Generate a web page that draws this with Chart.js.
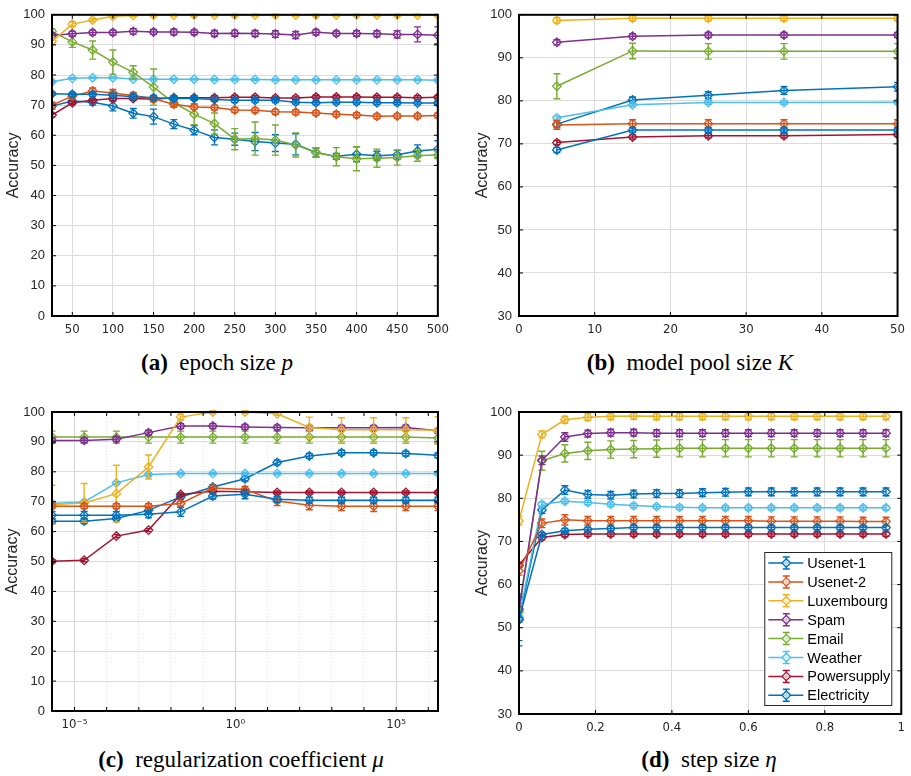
<!DOCTYPE html>
<html>
<head>
<meta charset="utf-8">
<script src="https://cdn.jsdelivr.net/npm/chart.js"></script>
<style>
  body { margin: 0; background: #fff; width: 911px; height: 776px; position: relative; overflow: hidden; }
  canvas { position: absolute; }
  .cap { position: absolute; font-family: "Liberation Serif", "Times New Roman", serif; font-size: 23px; line-height: 1;
         color: #000; white-space: nowrap; transform: translate(-50%, -50%); }
</style>
</head>
<body>
<canvas id="chartA" width="455" height="340" style="left:0;top:0"></canvas>
<canvas id="chartB" width="456" height="340" style="left:455px;top:0"></canvas>
<canvas id="chartC" width="455" height="340" style="left:0;top:395px"></canvas>
<canvas id="chartD" width="456" height="340" style="left:455px;top:395px"></canvas>
<div class="cap" style="left:217px;top:362px"><b>(a)</b>&nbsp; epoch size <i>p</i></div>
<div class="cap" style="left:690px;top:362px"><b>(b)</b>&nbsp; model pool size <i>K</i></div>
<div class="cap" style="left:241px;top:759px"><b>(c)</b>&nbsp; regularization coefficient <i>μ</i></div>
<div class="cap" style="left:709px;top:759px"><b>(d)</b>&nbsp; step size <i>η</i></div>
<script>
const seriesNames = ['Usenet-1', 'Usenet-2', 'Luxembourg', 'Spam', 'Email', 'Weather', 'Powersupply', 'Electricity'];
const seriesColors = ['#0072BD', '#D95319', '#EDB120', '#7E2F8E', '#77AC30', '#4DBEEE', '#A2142F', '#0072BD'];

// (a) epoch size p
const aX = [25, 50, 75, 100, 125, 150, 175, 200, 225, 250, 275, 300, 325, 350, 375, 400, 425, 450, 475, 500];
const aXTicks = [50, 100, 150, 200, 250, 300, 350, 400, 450, 500];
const aYTicks = [0, 10, 20, 30, 40, 50, 60, 70, 80, 90, 100];
const aUsenet1 = [73.8, 73.6, 73.6, 73.3, 72.8, 72.5, 72.2, 72.2, 71.9, 71.6, 71.6, 71.6, 71.0, 70.8, 71.0, 71.0, 70.8, 70.8, 70.7, 70.7];
const aUsenet2 = [70.0, 73.0, 74.7, 74.0, 73.2, 72.1, 70.3, 69.4, 69.2, 68.4, 68.3, 67.8, 67.7, 67.4, 67.0, 66.7, 66.3, 66.4, 66.4, 66.6];
const aLux = [91.2, 96.9, 98.3, 99.5, 99.8, 99.9, 99.9, 99.9, 99.9, 99.9, 99.9, 99.9, 99.9, 99.9, 99.9, 99.9, 99.9, 99.9, 99.9, 99.9];
const aSpam = [93.1, 93.7, 94.1, 94.1, 94.5, 94.3, 94.3, 94.2, 93.8, 93.9, 93.8, 93.6, 93.3, 94.2, 93.8, 93.8, 93.7, 93.5, 93.5, 93.2];
const aEmail = [94.5, 91.0, 88.3, 84.3, 80.9, 76.0, 70.8, 67.0, 63.9, 58.7, 58.9, 58.4, 56.8, 54.3, 52.9, 52.2, 52.4, 52.6, 53.2, 53.5];
const aWeather = [77.8, 78.9, 79.1, 79.1, 78.7, 78.6, 78.6, 78.6, 78.5, 78.5, 78.5, 78.4, 78.4, 78.4, 78.4, 78.4, 78.4, 78.4, 78.4, 78.3];
const aPower = [66.7, 70.8, 71.6, 72.2, 72.2, 72.0, 72.5, 72.5, 72.5, 72.6, 72.6, 72.4, 72.4, 72.7, 72.7, 72.7, 72.6, 72.6, 72.5, 72.6];
const aElec = [69.7, 71.4, 71.0, 69.7, 67.3, 66.2, 63.7, 61.7, 59.3, 58.7, 57.9, 57.4, 57.0, 54.3, 53.0, 53.7, 53.2, 53.5, 54.8, 55.4];
const aUsenet1Err = [0.5, 0.6, 0.6, 0.6, 0.8, 0.7, 0.6, 0.6, 0.6, 0.7, 0.7, 0.7, 0.6, 0.6, 0.6, 0.6, 0.6, 0.6, 0.6, 0.6];
const aUsenet2Err = [1.0, 1.0, 1.0, 1.2, 1.0, 1.0, 0.8, 0.8, 0.8, 0.8, 0.8, 0.8, 0.8, 0.8, 0.8, 0.8, 0.8, 0.8, 0.8, 0.8];
const aLuxErr = [1.0, 0.8, 0.5, 0.3, 0.3, 0.3, 0.3, 0.3, 0.3, 0.3, 0.3, 0.3, 0.3, 0.3, 0.3, 0.3, 0.3, 0.3, 0.3, 0.3];
const aSpamErr = [0.8, 0.8, 0.8, 0.8, 0.9, 0.8, 0.9, 0.8, 1.0, 1.0, 1.0, 1.1, 1.2, 0.9, 0.8, 0.9, 1.0, 1.2, 2.5, 2.8];
const aEmailErr = [0.8, 1.8, 3.0, 4.0, 2.2, 6.0, 1.5, 3.5, 3.5, 3.5, 5.5, 5.0, 4.0, 1.5, 3.0, 4.0, 3.0, 2.5, 1.8, 1.2];
const aWeatherErr = [0.3, 0.3, 0.3, 0.3, 0.3, 0.3, 0.3, 0.3, 0.3, 0.3, 0.3, 0.3, 0.3, 0.3, 0.3, 0.3, 0.3, 0.3, 0.3, 0.3];
const aPowerErr = [0.6, 0.6, 0.6, 0.6, 0.6, 0.6, 0.6, 0.6, 0.6, 0.6, 0.6, 0.6, 0.6, 0.6, 0.6, 0.6, 0.6, 0.6, 0.6, 0.6];
const aElecErr = [1.0, 1.0, 1.0, 1.6, 1.6, 2.5, 1.5, 1.5, 2.5, 2.0, 3.0, 2.8, 3.5, 1.5, 1.0, 2.5, 1.5, 1.5, 2.0, 2.8];

// (b) model pool size K
const bX = [5, 15, 25, 35, 50];
const bXTicks = [0, 10, 20, 30, 40, 50];
const bYTicks = [30, 40, 50, 60, 70, 80, 90, 100];
const bUsenet1 = [68.6, 73.2, 73.2, 73.2, 73.2];
const bUsenet2 = [74.4, 74.7, 74.7, 74.7, 74.7];
const bLux = [98.7, 99.2, 99.2, 99.2, 99.2];
const bSpam = [93.6, 95.0, 95.3, 95.3, 95.3];
const bEmail = [83.4, 91.6, 91.5, 91.5, 91.5];
const bWeather = [76.1, 79.1, 79.6, 79.6, 79.7];
const bPower = [70.3, 71.6, 71.9, 71.9, 72.2];
const bElec = [74.6, 80.2, 81.3, 82.4, 83.3];
const bUsenet1Err = [0.6, 0.5, 0.5, 0.5, 0.5];
const bUsenet2Err = [1.0, 0.9, 0.9, 0.9, 0.9];
const bLuxErr = [0.6, 0.6, 0.6, 0.6, 0.6];
const bSpamErr = [0.6, 0.6, 0.6, 0.6, 0.6];
const bEmailErr = [2.9, 1.8, 1.8, 1.8, 1.8];
const bWeatherErr = [0.4, 0.4, 0.4, 0.4, 0.4];
const bPowerErr = [0.5, 0.5, 0.5, 0.5, 0.5];
const bElecErr = [0.8, 0.7, 0.8, 0.9, 1.0];

// (c) regularization coefficient mu (log scale)
const cX = [2e-6, 2e-5, 2e-4, 2e-3, 2e-2, 2e-1, 2, 20, 200, 2e3, 2e4, 2e5, 2e6];
const cXTicks = [1e-5, 1e-4, 1e-3, 1e-2, 1e-1, 1, 10, 100, 1e3, 1e4, 1e5, 1e6];
const cXTickLabels = ['10⁻⁵', '', '', '', '', '10⁰', '', '', '', '', '10⁵', ''];
const cYTicks = [0, 10, 20, 30, 40, 50, 60, 70, 80, 90, 100];
const cUsenet1 = [65.5, 65.5, 65.5, 65.8, 66.6, 71.9, 72.5, 70.8, 70.5, 70.5, 70.5, 70.5, 70.5];
const cUsenet2 = [68.5, 68.5, 68.5, 68.5, 69.4, 74.6, 74.1, 70.2, 68.8, 68.5, 68.5, 68.5, 68.5];
const cLux = [69.0, 69.6, 72.7, 81.6, 98.3, 100, 100, 99.4, 94.8, 94.1, 94.1, 94.1, 93.9];
const cSpam = [90.5, 90.5, 90.9, 93.1, 95.3, 95.3, 95.0, 94.8, 94.7, 94.7, 94.7, 94.8, 93.7];
const cEmail = [91.6, 91.6, 91.6, 91.6, 91.6, 91.6, 91.6, 91.6, 91.6, 91.6, 91.6, 91.6, 91.3];
const cWeather = [69.4, 69.9, 76.3, 79.1, 79.4, 79.4, 79.4, 79.4, 79.4, 79.4, 79.4, 79.4, 79.4];
const cPower = [50.1, 50.4, 58.5, 60.5, 72.4, 73.5, 73.3, 73.1, 73.1, 73.1, 73.1, 73.1, 73.1];
const cElec = [63.5, 63.5, 64.4, 67.1, 71.6, 74.9, 77.7, 83.1, 85.3, 86.4, 86.4, 86.1, 85.5];
const cUsenet1Err = [1.2, 1.2, 1.2, 1.2, 1.5, 1.0, 1.5, 1.0, 1.0, 1.0, 1.0, 1.0, 1.0];
const cUsenet2Err = [0.8, 0.8, 0.8, 0.8, 0.8, 0.8, 1.0, 1.5, 1.5, 1.5, 1.8, 1.5, 1.5];
const cLuxErr = [6.5, 6.5, 9.5, 4.0, 1.0, 0.5, 0.5, 0.5, 3.5, 4.0, 4.0, 4.0, 4.5];
const cSpamErr = [0.8, 0.8, 0.8, 0.8, 0.8, 0.8, 0.8, 0.8, 0.8, 0.8, 0.8, 0.8, 0.8];
const cEmailErr = [2.0, 2.0, 2.0, 2.0, 2.0, 2.0, 2.0, 2.0, 2.0, 2.0, 2.0, 2.0, 2.0];
const cWeatherErr = [0.4, 0.4, 0.4, 0.4, 0.4, 0.4, 0.4, 0.4, 0.4, 0.4, 0.4, 0.4, 0.4];
const cPowerErr = [0.5, 0.5, 0.5, 0.5, 0.5, 0.5, 0.5, 0.5, 0.5, 0.5, 0.5, 0.5, 0.5];
const cElecErr = [0.8, 0.8, 0.8, 0.8, 0.8, 0.8, 0.8, 0.8, 0.8, 0.8, 0.8, 0.8, 0.8];

// (d) step size eta
const dX = [0, 0.06, 0.12, 0.18, 0.24, 0.30, 0.36, 0.42, 0.48, 0.54, 0.60, 0.66, 0.72, 0.78, 0.84, 0.90, 0.96];
const dXTicks = [0, 0.2, 0.4, 0.6, 0.8, 1];
const dYTicks = [30, 40, 50, 60, 70, 80, 90, 100];
const dUsenet1 = [52.0, 71.6, 72.5, 72.8, 73.0, 73.2, 73.2, 73.2, 73.2, 73.2, 73.2, 73.2, 73.2, 73.2, 73.2, 73.2, 73.2];
const dUsenet2 = [63.2, 74.2, 75.0, 74.8, 74.8, 74.8, 74.8, 74.8, 74.8, 74.8, 74.8, 74.7, 74.7, 74.7, 74.7, 74.6, 74.6];
const dLux = [74.8, 94.8, 98.2, 98.8, 99.0, 99.1, 99.0, 99.0, 99.0, 99.0, 99.0, 99.0, 99.0, 99.0, 99.0, 99.0, 99.0];
const dSpam = [54.3, 88.8, 94.2, 95.0, 95.2, 95.2, 95.1, 95.1, 95.1, 95.1, 95.1, 95.1, 95.1, 95.1, 95.1, 95.1, 95.1];
const dEmail = [53.7, 88.7, 90.4, 91.0, 91.3, 91.4, 91.5, 91.6, 91.6, 91.6, 91.6, 91.6, 91.6, 91.6, 91.6, 91.6, 91.6];
const dWeather = [52.5, 78.6, 79.3, 79.0, 78.6, 78.3, 78.1, 77.9, 77.8, 77.8, 77.8, 77.8, 77.8, 77.8, 77.8, 77.8, 77.8];
const dPower = [64.5, 70.9, 71.6, 71.7, 71.7, 71.7, 71.7, 71.7, 71.7, 71.7, 71.7, 71.7, 71.7, 71.7, 71.7, 71.7, 71.7];
const dElec = [51.8, 77.3, 81.9, 80.9, 80.7, 81.0, 81.1, 81.1, 81.3, 81.4, 81.5, 81.5, 81.5, 81.5, 81.5, 81.5, 81.5];
const dUsenet1Err = [5.0, 0.5, 0.5, 0.5, 0.5, 0.5, 0.5, 0.5, 0.5, 0.5, 0.5, 0.5, 0.5, 0.5, 0.5, 0.5, 0.5];
const dUsenet2Err = [1.0, 1.0, 1.2, 1.0, 1.0, 1.0, 1.0, 1.0, 1.0, 1.0, 1.0, 1.0, 1.0, 1.0, 1.0, 1.0, 1.0];
const dLuxErr = [1.0, 0.8, 0.8, 0.8, 0.8, 0.8, 0.8, 0.8, 0.8, 0.8, 0.8, 0.8, 0.8, 0.8, 0.8, 0.8, 0.8];
const dSpamErr = [3.0, 1.0, 1.0, 0.8, 0.8, 0.8, 0.8, 0.8, 0.8, 0.8, 0.8, 0.8, 0.8, 0.8, 0.8, 0.8, 0.8];
const dEmailErr = [1.0, 2.2, 2.0, 2.0, 2.0, 2.0, 2.0, 2.0, 2.0, 2.0, 2.0, 2.0, 2.0, 2.0, 2.0, 2.0, 2.0];
const dWeatherErr = [0.5, 0.5, 0.5, 0.5, 0.5, 0.5, 0.5, 0.5, 0.5, 0.5, 0.5, 0.5, 0.5, 0.5, 0.5, 0.5, 0.5];
const dPowerErr = [0.5, 0.5, 0.5, 0.5, 0.5, 0.5, 0.5, 0.5, 0.5, 0.5, 0.5, 0.5, 0.5, 0.5, 0.5, 0.5, 0.5];
const dElecErr = [6.0, 0.8, 1.0, 0.9, 0.9, 0.9, 0.9, 0.9, 0.9, 0.9, 0.9, 0.9, 0.9, 0.9, 0.9, 0.9, 0.9];

const TEXT = '#262626';
const GRID = '#dcdcdc';
const xFont = { family: '"Liberation Sans Narrow", "DejaVu Sans Condensed", Arial, sans-serif', size: 13 };
const yFont = { family: 'Arial, "Liberation Sans", sans-serif', size: 13 };

function makeDatasets(xs, values, errors) {
  return seriesNames.map((name, i) => ({
    label: name,
    data: xs.map((x, j) => ({ x: x, y: values[i][j] })),
    errors: errors[i],
    borderColor: seriesColors[i],
    backgroundColor: seriesColors[i],
    borderWidth: 1.5,
    pointStyle: 'rectRot',
    pointRadius: 4.3,
    pointBorderWidth: 1.3,
    pointBorderColor: seriesColors[i],
    pointBackgroundColor: 'rgba(255,255,255,0)',
    tension: 0
  }));
}

// vertical error bars with caps, drawn right after each line
const errorBars = {
  id: 'errorBars',
  afterDatasetDraw(chart, args) {
    const ds = chart.data.datasets[args.index];
    const y = chart.scales.y;
    const area = chart.chartArea;
    const ctx = chart.ctx;
    ctx.save();
    ctx.beginPath();
    ctx.rect(area.left, area.top - 2, area.right - area.left, area.bottom - area.top + 4);
    ctx.clip();
    ctx.strokeStyle = ds.borderColor;
    ctx.lineWidth = 1.4;
    args.meta.data.forEach((pt, j) => {
      const v = ds.data[j].y, e = ds.errors[j];
      const y1 = y.getPixelForValue(v - e), y2 = y.getPixelForValue(v + e);
      ctx.beginPath();
      ctx.moveTo(pt.x, y1); ctx.lineTo(pt.x, y2);
      ctx.moveTo(pt.x - 3.5, y1); ctx.lineTo(pt.x + 3.5, y1);
      ctx.moveTo(pt.x - 3.5, y2); ctx.lineTo(pt.x + 3.5, y2);
      ctx.stroke();
    });
    ctx.restore();
  }
};

// black box with inward ticks
const frame = {
  id: 'frame',
  afterDraw(chart) {
    const { ctx, chartArea: a, scales } = chart;
    ctx.save();
    ctx.strokeStyle = '#000';
    ctx.lineWidth = 1;
    ctx.beginPath();
    scales.x.ticks.forEach(t => {
      const px = scales.x.getPixelForValue(t.value);
      ctx.moveTo(px, a.bottom); ctx.lineTo(px, a.bottom - 4);
      ctx.moveTo(px, a.top); ctx.lineTo(px, a.top + 4);
    });
    scales.y.ticks.forEach(t => {
      const py = scales.y.getPixelForValue(t.value);
      ctx.moveTo(a.left, py); ctx.lineTo(a.left + 4, py);
      ctx.moveTo(a.right, py); ctx.lineTo(a.right - 4, py);
    });
    ctx.stroke();
    ctx.lineWidth = 2;
    ctx.strokeRect(a.left, a.top, a.right - a.left, a.bottom - a.top);
    ctx.restore();
  }
};

// boxed legend in the lower right of the plot area
const boxLegend = {
  id: 'boxLegend',
  afterDraw(chart) {
    const { ctx, chartArea: a } = chart;
    const w = 127, h = 153;
    const x0 = a.right - 10 - w, y0 = a.bottom - 9 - h;
    ctx.save();
    ctx.fillStyle = '#fff';
    ctx.fillRect(x0, y0, w, h);
    ctx.strokeStyle = '#262626';
    ctx.lineWidth = 1;
    ctx.strokeRect(x0 + 0.5, y0 + 0.5, w, h);
    ctx.font = '14.5px Arial, "Liberation Sans", sans-serif';
    ctx.textBaseline = 'middle';
    chart.data.datasets.forEach((ds, i) => {
      const cy = y0 + 11 + i * 18.9;
      const cx = x0 + 22;
      ctx.strokeStyle = ds.borderColor;
      ctx.lineWidth = 1.5;
      ctx.beginPath();
      ctx.moveTo(x0 + 4, cy); ctx.lineTo(x0 + 39, cy);
      ctx.moveTo(cx, cy - 6); ctx.lineTo(cx, cy + 6);
      ctx.moveTo(cx - 3.5, cy - 6); ctx.lineTo(cx + 3.5, cy - 6);
      ctx.moveTo(cx - 3.5, cy + 6); ctx.lineTo(cx + 3.5, cy + 6);
      ctx.stroke();
      ctx.fillStyle = 'rgba(255,255,255,0.7)';
      ctx.lineWidth = 1.3;
      Chart.helpers.drawPoint(ctx, { pointStyle: 'rectRot', radius: 4.3, borderWidth: 1.3 }, cx, cy);
      ctx.fillStyle = '#000';
      ctx.fillText(ds.label, x0 + 43, cy + 1);
    });
    ctx.restore();
  }
};

function makePanel(id, opts) {
  const xScale = {
    type: opts.xType || 'linear',
    min: opts.xMin,
    max: opts.xMax,
    afterBuildTicks: s => { s.ticks = opts.xTicks.map(v => ({ value: v })); },
    afterFit: s => { s.height = opts.xHeight; },
    grid: { color: opts.xGridColor || GRID, drawTicks: false, lineWidth: 1 },
    border: { display: false, dash: opts.xDash || [] },
    ticks: {
      font: xFont, color: TEXT, padding: 6, maxRotation: 0, autoSkip: false,
      callback: opts.xLabel || (v => String(v))
    }
  };
  const yScale = {
    type: 'linear',
    min: opts.yMin,
    max: opts.yMax,
    afterBuildTicks: s => { s.ticks = opts.yTicks.map(v => ({ value: v })); },
    afterFit: s => { s.width = opts.yWidth; },
    grid: { color: GRID, drawTicks: false, lineWidth: 1 },
    border: { display: false },
    ticks: { font: yFont, color: TEXT, padding: 7, autoSkip: false },
    title: {
      display: true, text: 'Accuracy', color: TEXT,
      font: { family: 'Arial, "Liberation Sans", sans-serif', size: 16 },
      padding: { top: opts.titlePad, bottom: 0 }
    }
  };
  const plugins = [errorBars, frame];
  if (opts.legend) plugins.push(boxLegend);
  return new Chart(document.getElementById(id), {
    type: 'line',
    data: { datasets: makeDatasets(opts.x, opts.values, opts.errors) },
    options: {
      responsive: false,
      animation: false,
      devicePixelRatio: 1,
      layout: { autoPadding: false, padding: opts.padding },
      plugins: { legend: { display: false }, tooltip: { enabled: false } },
      scales: { x: xScale, y: yScale }
    },
    plugins: plugins
  });
}

makePanel('chartA', {
  x: aX, xMin: 25, xMax: 500, xTicks: aXTicks, xHeight: 24,
  yMin: 0, yMax: 100, yTicks: aYTicks, yWidth: 52, titlePad: 4,
  padding: { top: 13, right: 17, bottom: 0, left: 0 },
  values: [aUsenet1, aUsenet2, aLux, aSpam, aEmail, aWeather, aPower, aElec],
  errors: [aUsenet1Err, aUsenet2Err, aLuxErr, aSpamErr, aEmailErr, aWeatherErr, aPowerErr, aElecErr]
});

makePanel('chartB', {
  x: bX, xMin: 0, xMax: 50, xTicks: bXTicks, xHeight: 24,
  yMin: 30, yMax: 100, yTicks: bYTicks, yWidth: 64, titlePad: 18,
  padding: { top: 13, right: 5, bottom: 0, left: 0 },
  values: [bUsenet1, bUsenet2, bLux, bSpam, bEmail, bWeather, bPower, bElec],
  errors: [bUsenet1Err, bUsenet2Err, bLuxErr, bSpamErr, bEmailErr, bWeatherErr, bPowerErr, bElecErr]
});

makePanel('chartC', {
  x: cX, xType: 'logarithmic', xMin: 2e-6, xMax: 2e6, xTicks: cXTicks, xHeight: 24,
  xLabel: (v, i) => cXTickLabels[i],
  xGridColor: c => (cXTickLabels[c.index] ? '#d4d4d4' : '#e2e2e2'),
  xDash: c => (cXTickLabels[c.index] ? [] : [1, 2]),
  yMin: 0, yMax: 100, yTicks: cYTicks, yWidth: 52, titlePad: 3,
  padding: { top: 17, right: 17, bottom: 0, left: 0 },
  values: [cUsenet1, cUsenet2, cLux, cSpam, cEmail, cWeather, cPower, cElec],
  errors: [cUsenet1Err, cUsenet2Err, cLuxErr, cSpamErr, cEmailErr, cWeatherErr, cPowerErr, cElecErr]
});

makePanel('chartD', {
  x: dX, xMin: 0, xMax: 1, xTicks: dXTicks, xHeight: 21,
  yMin: 30, yMax: 100, yTicks: dYTicks, yWidth: 64, titlePad: 18, legend: true,
  padding: { top: 17, right: 5, bottom: 0, left: 0 },
  values: [dUsenet1, dUsenet2, dLux, dSpam, dEmail, dWeather, dPower, dElec],
  errors: [dUsenet1Err, dUsenet2Err, dLuxErr, dSpamErr, dEmailErr, dWeatherErr, dPowerErr, dElecErr]
});
</script>
</body>
</html>
